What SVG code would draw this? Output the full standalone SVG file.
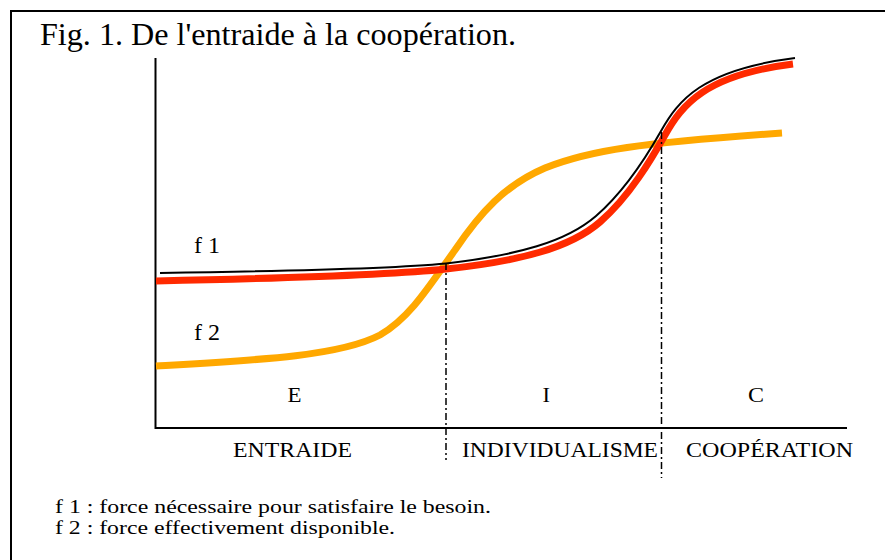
<svg xmlns="http://www.w3.org/2000/svg" width="885" height="560" viewBox="0 0 885 560">
<style>
.t{font-family:"Liberation Serif","Times New Roman",serif;fill:#000}
.ln{fill:none;stroke:#000;stroke-width:2}
.dash{fill:none;stroke:#000;stroke-width:1.5;stroke-dasharray:7,3,2,3}
.thick{fill:none;stroke-width:7;stroke-linecap:butt}
</style>
<rect width="885" height="560" fill="#fff"/>
<g id="frame"><path class="ln" d="M11,562 V11 H887"/></g>
<g id="title"><text class="t" x="40" y="45" font-size="30.5" textLength="476" lengthAdjust="spacingAndGlyphs">Fig. 1. De l'entraide à la coopération.</text></g>
<g id="axes"><path class="ln" d="M155.5,58 V428 H847"/></g>
<g id="curves">
<path id="f2" class="thick" stroke="#FFA800" d="M156,366 C260,360 340,356 380,335 C410,318 430,285 455,250 C480,213 505,185 545,168 C590,150 640,143 782,133"/>
<path id="f1-red" class="thick" stroke="#FF2A00" d="M156,281 C300,278 400,274 446,269 C520,261 570,248 600,222 C630,196 652,158 665,135 C682,105 705,75 793,64"/>
<path id="f1" class="ln" d="M160,273 C300,271 400,268 446,263.5 C518,255 566,242 596,216 C626,190 648,154 661,131 C678,101 701,70 795,58"/>
</g>
<g id="dividers">
<path class="dash" d="M446,263 V460"/>
<path class="dash" d="M661.5,132 V478"/>
</g>
<g id="labels">
<text class="t" x="194" y="253" font-size="24">f 1</text>
<text class="t" x="194" y="340" font-size="24">f 2</text>
<text class="t" x="287.5" y="402" font-size="20" textLength="14" lengthAdjust="spacingAndGlyphs">E</text>
<text class="t" x="542.5" y="402" font-size="20" textLength="7.5" lengthAdjust="spacingAndGlyphs">I</text>
<text class="t" x="748" y="402" font-size="20" textLength="16" lengthAdjust="spacingAndGlyphs">C</text>
<text class="t" x="233" y="457" font-size="20.5" textLength="119" lengthAdjust="spacingAndGlyphs">ENTRAIDE</text>
<text class="t" x="462" y="457" font-size="20.5" textLength="196" lengthAdjust="spacingAndGlyphs">INDIVIDUALISME</text>
<text class="t" x="686" y="457" font-size="20.5" textLength="167" lengthAdjust="spacingAndGlyphs">COOPÉRATION</text>
</g>
<g id="legend">
<text class="t" x="55" y="513" font-size="19.5" textLength="436" lengthAdjust="spacingAndGlyphs">f 1 : force nécessaire pour satisfaire le besoin.</text>
<text class="t" x="55" y="534" font-size="19.5" textLength="340" lengthAdjust="spacingAndGlyphs">f 2 : force effectivement disponible.</text>
</g>
</svg>
